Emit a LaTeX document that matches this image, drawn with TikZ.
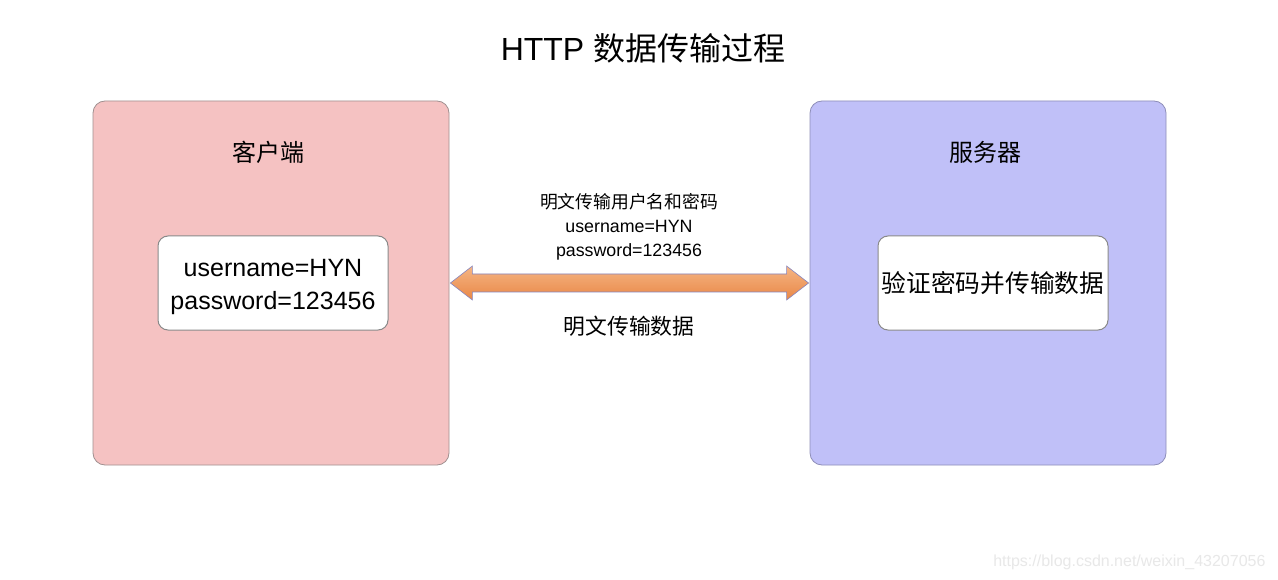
\documentclass[tikz,border=0pt]{standalone}
\usepackage{fontspec}
\setmainfont{Liberation Sans}
\newfontfamily\cjk{Noto Sans CJK SC}
\usetikzlibrary{calc}
\definecolor{pinkfill}{HTML}{F5C2C2}
\definecolor{pinkline}{HTML}{A09090}
\definecolor{bluefill}{HTML}{C0C0F8}
\definecolor{blueline}{HTML}{8E8EB8}
\definecolor{innerline}{HTML}{8A8A8A}
\definecolor{arrowline}{HTML}{8585C0}
\definecolor{arrtop}{HTML}{F5B584}
\definecolor{arrmid}{HTML}{EE9152}
\definecolor{arrbot}{HTML}{E98746}
\definecolor{wmark}{HTML}{E8E8E8}
\tikzset{
  outerbox/.style={rounded corners=12pt, line width=0.8pt, minimum width=356pt, minimum height=364pt, inner sep=0pt},
  innerbox/.style={rounded corners=10pt, draw=innerline, fill=white, line width=1pt, minimum width=230pt, minimum height=94pt, inner sep=0pt, align=center},
  boxtitle/.style={font=\cjk\fontsize{24}{28}\selectfont},
  smalltext/.style={font=\fontsize{17.8}{24}\selectfont, align=center},
}
\begin{document}
\begin{tikzpicture}[x=1pt,y=-1pt]
\useasboundingbox[fill=white] (0,0) rectangle (1278,580);
\node (title) at (643,48) {\fontsize{32}{36}\selectfont HTTP {\cjk 数据传输过程}};
\node[outerbox, draw=pinkline, fill=pinkfill] (client) at (271,283) {};
\node[outerbox, draw=blueline, fill=bluefill] (server) at (988,283) {};
\node[boxtitle] (clientlbl) at (268,152) {客户端};
\node[boxtitle] (serverlbl) at (985,152) {服务器};
\node[innerbox] (cred) at (273,283) {};
\node[font=\fontsize{25}{33}\selectfont, align=center] (credtext) at (273,287) {username=HYN\\password=123456};
\node[innerbox, font=\cjk\fontsize{24.7}{28}\selectfont] (verify) at (993,283) {验证密码并传输数据};
\path[draw=arrowline, line width=0.6pt, top color=arrtop, middle color=arrmid, bottom color=arrbot]
  ($(client.east)+(1,0)$) -- ++(22,-17) -- ++(0,8) -- ($(server.west)+(-23,-9)$) -- ++(0,-8)
  -- ($(server.west)+(-1,0)$) -- ++(-22,17) -- ++(0,-8) -- ($(client.east)+(23,9)$) -- ++(0,8) -- cycle;
\node[smalltext] (msg) at (629,227) {{\cjk 明文传输用户名和密码}\\username=HYN\\password=123456};
\node[font=\cjk\fontsize{21.8}{26}\selectfont] (msg2) at (629,326) {明文传输数据};
\node[font=\fontsize{16}{19}\selectfont, text=wmark, anchor=east] (wm) at (1269,562) {https://blog.csdn.net/weixin\_43207056};
\end{tikzpicture}
\end{document}
